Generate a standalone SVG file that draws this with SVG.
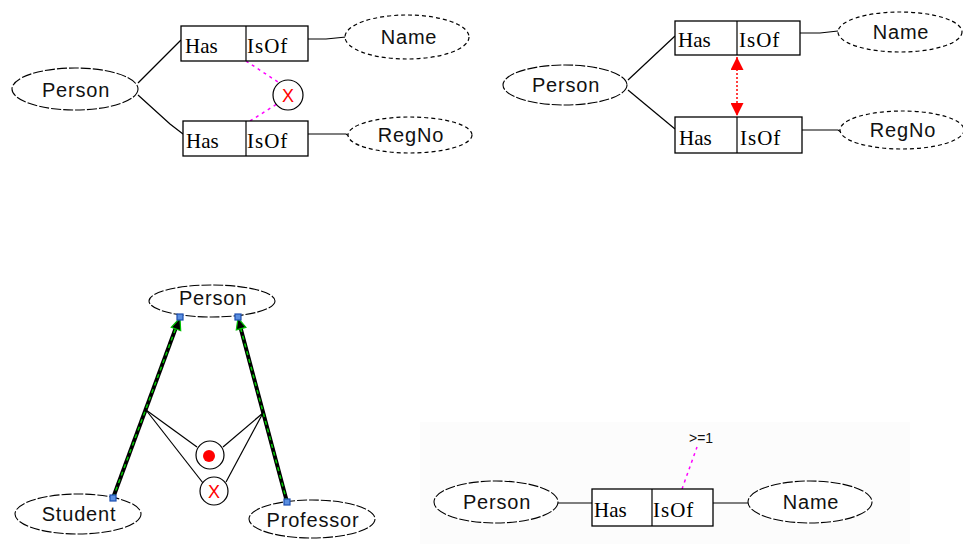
<svg xmlns="http://www.w3.org/2000/svg" width="963" height="550" viewBox="0 0 963 550">
<defs>
<style>
.ent{fill:#fff;stroke:#000;stroke-width:1.1;stroke-dasharray:10 2}
.att{fill:#fff;stroke:#000;stroke-width:1.2;stroke-dasharray:4 3}
.box{fill:#fff;stroke:#000;stroke-width:1.3}
.ln{stroke:#000;stroke-width:1.2;fill:none}
.sans{font-family:"Liberation Sans",Arial,sans-serif;font-size:20px;letter-spacing:0.8px;fill:#111}
.serif{font-family:"Liberation Serif","Times New Roman",serif;font-size:21px;fill:#000}
.mag{stroke:#ff00ff;stroke-width:1.5;stroke-dasharray:3 4;fill:none}
.xt{font-family:"Liberation Sans",Arial,sans-serif;font-size:18px;fill:#ff0000}
.circ{fill:#fff;stroke:#000;stroke-width:1.2}
.blue{fill:#5b8fe0;stroke:#1d4fb0;stroke-width:1.2}
</style>
<marker id="redTri" viewBox="0 0 10 10" refX="10" refY="5" markerWidth="13" markerHeight="13" markerUnits="userSpaceOnUse" orient="auto-start-reverse">
<path d="M0,0 L10,5 L0,10 Z" fill="#ff0000"/>
</marker>
</defs>
<rect x="0" y="0" width="963" height="550" fill="#fff"/>
<rect x="420" y="422" width="490" height="122" fill="#fcfcfc"/>

<!-- connectors -->
<g id="connectors">
<!-- panel 1 -->
<polyline class="ln" points="138,83 165,56 181,40"/>
<polyline class="ln" points="138,95 170,124 183,134"/>
<polyline class="ln" points="308,39 326,39 346,37"/>
<polyline class="ln" points="308,134 346,134 349,136"/>
<line class="mag" x1="246" y1="61" x2="278" y2="82"/>
<line class="mag" x1="250" y1="121" x2="277" y2="104"/>
<!-- panel 2 -->
<line class="ln" x1="628" y1="80" x2="675" y2="36"/>
<line class="ln" x1="628" y1="90" x2="675" y2="129"/>
<polyline class="ln" points="800,33 820,33 838,31"/>
<polyline class="ln" points="802,130 838,130 841,132"/>
<line x1="737" y1="57" x2="737" y2="116" stroke="#ff0000" stroke-width="1.5" stroke-dasharray="2 2" marker-start="url(#redTri)" marker-end="url(#redTri)"/>
<!-- panel 3 -->
<line x1="113" y1="498" x2="178" y2="322" stroke="#000" stroke-width="4"/>
<line x1="113" y1="498" x2="178" y2="322" stroke="#00d000" stroke-width="1.5" stroke-dasharray="4 4"/>
<polygon points="180,318 171.3,327.3 180.7,330.7" fill="#000" stroke="#00c000" stroke-width="1.2"/>
<line x1="287" y1="502" x2="239" y2="322" stroke="#000" stroke-width="4"/>
<line x1="287" y1="502" x2="239" y2="322" stroke="#00d000" stroke-width="1.5" stroke-dasharray="4 4"/>
<polygon points="238,318 245.9,327.3 236.3,329.9" fill="#000" stroke="#00c000" stroke-width="1.2"/>
<line class="ln" x1="146" y1="410" x2="197" y2="447"/>
<line class="ln" x1="146" y1="410" x2="203" y2="483"/>
<line class="ln" x1="263" y1="413" x2="223" y2="447"/>
<line class="ln" x1="263" y1="413" x2="226" y2="482"/>
<!-- panel 4 -->
<line class="ln" x1="557" y1="503" x2="592" y2="503"/>
<line class="ln" x1="713" y1="503" x2="748" y2="503"/>
<line class="mag" x1="682" y1="489" x2="697" y2="447"/>
</g>

<!-- panel 1 nodes -->
<g id="p1-person"><ellipse class="ent" cx="75" cy="89" rx="63" ry="21"/><text class="sans" x="76" y="97" text-anchor="middle">Person</text></g>
<g id="p1-rel1"><rect class="box" x="181" y="26" width="127" height="35"/><line class="ln" x1="246" y1="26" x2="246" y2="61"/><text class="serif" x="185" y="53">Has</text><text class="serif" x="247" y="53" letter-spacing="1">IsOf</text></g>
<g id="p1-rel2"><rect class="box" x="183" y="121" width="125" height="35"/><line class="ln" x1="246" y1="121" x2="246" y2="156"/><text class="serif" x="186" y="148">Has</text><text class="serif" x="247" y="148" letter-spacing="1">IsOf</text></g>
<g id="p1-name"><ellipse class="att" cx="407" cy="37" rx="62" ry="22"/><text class="sans" x="409" y="44" text-anchor="middle">Name</text></g>
<g id="p1-regno"><ellipse class="att" cx="410" cy="135" rx="62" ry="18"/><text class="sans" x="411" y="142" text-anchor="middle">RegNo</text></g>
<g id="p1-x"><circle class="circ" cx="288" cy="95" r="15"/><text class="xt" x="288" y="101.5" text-anchor="middle">X</text></g>

<!-- panel 2 nodes -->
<g id="p2-person"><ellipse class="ent" cx="565" cy="85" rx="62" ry="20"/><text class="sans" x="566" y="92" text-anchor="middle">Person</text></g>
<g id="p2-rel1"><rect class="box" x="675" y="21" width="125" height="34"/><line class="ln" x1="737" y1="21" x2="737" y2="55"/><text class="serif" x="678" y="47">Has</text><text class="serif" x="739" y="47" letter-spacing="1">IsOf</text></g>
<g id="p2-rel2"><rect class="box" x="675" y="117" width="127" height="36"/><line class="ln" x1="737" y1="117" x2="737" y2="153"/><text class="serif" x="679" y="145">Has</text><text class="serif" x="740" y="145" letter-spacing="1">IsOf</text></g>
<g id="p2-name"><ellipse class="att" cx="900" cy="32" rx="62" ry="20"/><text class="sans" x="901" y="39" text-anchor="middle">Name</text></g>
<g id="p2-regno"><ellipse class="att" cx="902" cy="130" rx="62" ry="19"/><text class="sans" x="903" y="137" text-anchor="middle">RegNo</text></g>

<!-- panel 3 nodes -->
<g id="p3-person"><ellipse class="ent" cx="212" cy="301" rx="63" ry="16"/><text class="sans" x="213" y="305" text-anchor="middle">Person</text></g>
<g id="p3-student"><ellipse class="ent" cx="78" cy="514" rx="63" ry="20"/><text class="sans" x="79" y="521" text-anchor="middle">Student</text></g>
<g id="p3-professor"><ellipse class="ent" cx="312" cy="519" rx="63" ry="19"/><text class="sans" x="313" y="527" text-anchor="middle">Professor</text></g>
<g id="p3-dot"><circle class="circ" cx="210" cy="455" r="14"/><circle cx="209" cy="456" r="6" fill="#ff0000"/></g>
<g id="p3-x"><circle class="circ" cx="214" cy="491" r="14"/><text class="xt" x="214" y="497.5" text-anchor="middle">X</text></g>
<g id="p3-handles">
<rect class="blue" x="177" y="314" width="6" height="6"/>
<rect class="blue" x="235" y="314" width="6" height="6"/>
<rect class="blue" x="110" y="495" width="6" height="6"/>
<rect class="blue" x="284" y="499" width="6" height="6"/>
</g>

<!-- panel 4 nodes -->
<g id="p4-person"><ellipse class="ent" cx="496" cy="502" rx="62" ry="21"/><text class="sans" x="497" y="509" text-anchor="middle">Person</text></g>
<g id="p4-rel"><rect class="box" x="592" y="489" width="121" height="37"/><line class="ln" x1="652" y1="489" x2="652" y2="526"/><text class="serif" x="594" y="517">Has</text><text class="serif" x="653" y="517" letter-spacing="1">IsOf</text></g>
<g id="p4-name"><ellipse class="ent" cx="810" cy="502" rx="62" ry="21"/><text class="sans" x="811" y="509" text-anchor="middle">Name</text></g>
<g id="p4-label"><text x="689" y="443" font-family="Liberation Sans,Arial,sans-serif" font-size="14" fill="#111">&gt;=1</text></g>
</svg>
